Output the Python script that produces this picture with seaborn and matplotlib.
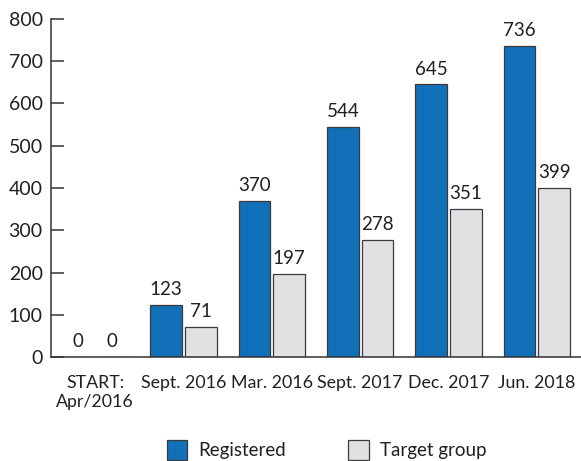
import numpy as np
import pandas as pd
import matplotlib
matplotlib.use("Agg")
import matplotlib.pyplot as plt
import seaborn as sns

# ---- Data ----
CATEGORIES = ["START:\nApr/2016", "Sept. 2016", "Mar. 2016", "Sept. 2017", "Dec. 2017", "Jun. 2018"]
REGISTERED = [0, 123, 370, 544, 645, 736]
TARGET_GROUP = [0, 71, 197, 278, 351, 399]
SERIES = ["Registered", "Target group"]

BLUE = "#1170B8"
GREY = "#E1E1E3"
INK = "#231F20"


def main():
    df = pd.DataFrame({
        "period": CATEGORIES * 2,
        "value": REGISTERED + TARGET_GROUP,
        "series": [SERIES[0]] * len(CATEGORIES) + [SERIES[1]] * len(CATEGORIES),
    })

    sns.set_style("white")
    plt.rcParams["font.family"] = ["Lato", "DejaVu Sans"]
    plt.rcParams["text.color"] = INK

    fig = plt.figure(figsize=(5.81, 4.61), dpi=100)
    ax = fig.add_axes([51 / 581, 104 / 461, 530 / 581, 338 / 461])

    sns.barplot(data=df, x="period", y="value", hue="series",
                palette=[BLUE, GREY], saturation=1, width=0.78, gap=0.08,
                edgecolor="#3a3a3a", linewidth=0.9, ax=ax)

    for cont in ax.containers:
        ax.bar_label(cont, fmt="%d", padding=5, fontsize=13.5, color=INK)

    ax.set_xlim(-0.5, len(CATEGORIES) - 0.5)
    ax.set_ylim(0, 800)
    ax.set_yticks(np.arange(0, 801, 100))
    ax.set_xlabel("")
    ax.set_ylabel("")

    # tick marks between the groups, labels under the groups
    ax.set_xticks(np.arange(0.5, len(CATEGORIES) - 0.5, 1), minor=True)
    ax.tick_params(axis="x", which="major", length=0, pad=13, labelsize=12.8, labelcolor=INK)
    ax.tick_params(axis="x", which="minor", direction="in", length=6, width=1.1, color="#333333")
    ax.tick_params(axis="y", direction="in", length=9.5, width=1.1, color="#333333",
                   pad=6, labelsize=14, labelcolor=INK, left=True)

    for side in ["top", "right"]:
        ax.spines[side].set_visible(False)
    for side in ["left", "bottom"]:
        ax.spines[side].set_color("#333333")
        ax.spines[side].set_linewidth(1.1)

    ax.legend(loc="center", bbox_to_anchor=(0.52, -0.275), ncol=2, frameon=False,
              fontsize=13.5, handlelength=1.1, handleheight=1.3, columnspacing=3.3,
              handletextpad=0.6)

    fig.savefig("out.png", dpi=100)
    plt.close(fig)


if __name__ == "__main__":
    main()
